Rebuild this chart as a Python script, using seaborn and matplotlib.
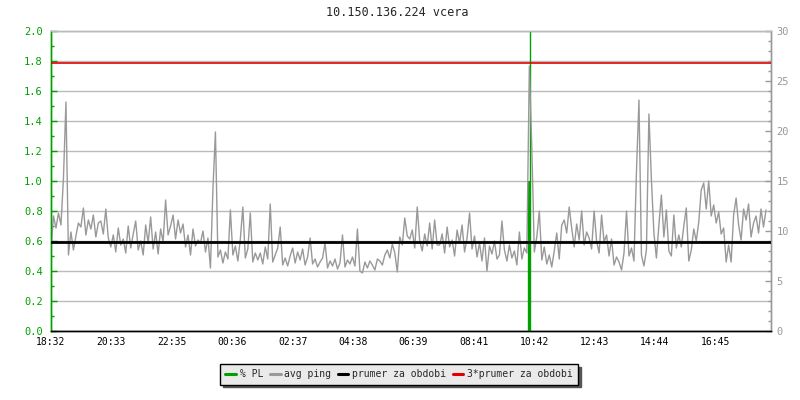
import pandas as pd
import seaborn as sns
import matplotlib.pyplot as plt
from matplotlib.lines import Line2D
from matplotlib.ticker import MultipleLocator

title = "10.150.136.224 vcera"
time_labels = ["18:32", "20:33", "22:35", "00:36", "02:37", "04:38",
               "06:39", "08:41", "10:42", "12:43", "14:44", "16:45"]
legend_labels = ["% PL", "avg ping", "prumer za obdobi", "3*prumer za obdobi"]

sample_step = 5  # minutes between ping samples
# avg ping [ms], one row per hour from 18:32
avg_ping_ms = [
    8.2, 11.5, 10.3, 11.8, 10.6, 15.3, 22.9, 7.6, 9.9, 8.1, 9.5, 10.8,
    10.4, 12.3, 9.6, 11.1, 10.2, 11.6, 9.4, 10.8, 11.0, 9.7, 12.2, 9.3,
    8.4, 9.6, 7.9, 10.3, 8.6, 9.2, 7.8, 10.5, 8.3, 9.7, 11.0, 8.1,
    9.0, 7.6, 10.6, 8.8, 11.4, 8.2, 9.9, 7.7, 10.2, 8.9, 13.1, 9.6,
    10.5, 11.6, 9.2, 11.1, 9.8, 10.7, 8.4, 9.6, 7.6, 10.2, 8.5, 9.1,
    8.8, 10.0, 7.9, 9.3, 6.3, 14.2, 19.9, 7.4, 8.1, 6.8, 7.9, 7.2,
    12.1, 7.6, 8.5, 7.0, 9.2, 12.4, 7.3, 8.2, 11.8, 6.9, 7.8, 7.1,
    7.8, 6.7, 8.4, 7.2, 12.7, 6.9, 7.6, 8.3, 10.4, 6.6, 7.3, 6.5,
    7.5, 8.3, 6.8, 7.9, 7.1, 8.2, 6.6, 7.4, 9.3, 6.7, 7.2, 6.4,
    6.9, 7.3, 8.8, 6.3, 7.0, 6.5, 7.2, 6.2, 6.8, 9.6, 6.4, 7.1,
    6.7, 7.4, 6.5, 10.2, 6.0, 5.8, 6.9, 6.3, 7.0, 6.6, 6.1, 7.2,
    7.0, 6.6, 7.6, 8.1, 7.3, 8.7, 7.8, 5.9, 9.4, 8.6, 11.3, 9.5,
    9.2, 10.1, 8.3, 12.4, 9.0, 8.0, 9.7, 8.5, 10.8, 8.2, 11.1, 8.6,
    8.6, 9.7, 7.8, 10.4, 8.4, 9.1, 7.5, 10.1, 8.8, 10.6, 7.9, 9.3,
    11.8, 8.2, 9.5, 7.4, 8.8, 7.0, 9.3, 6.0, 8.5, 7.7, 9.0, 7.2,
    7.6, 11.0, 8.1, 7.0, 8.6, 7.3, 8.0, 6.6, 9.9, 7.2, 8.3, 7.8,
    26.5, 18.3, 7.9, 9.4, 12.0, 7.1, 8.4, 6.7, 7.6, 6.4, 8.0, 9.8,
    7.2, 10.6, 11.1, 9.8, 12.4, 10.3, 8.4, 10.7, 9.1, 12.0, 8.6, 9.9,
    9.3, 8.2, 12.0, 9.0, 7.8, 11.6, 8.9, 9.6, 7.5, 9.2, 6.6, 7.4,
    6.9, 6.1, 7.8, 12.0, 7.5, 8.3, 7.0, 16.0, 23.1, 7.6, 6.5, 8.1,
    21.7, 15.1, 9.8, 7.3, 10.6, 13.6, 9.4, 12.1, 8.0, 7.5, 11.6, 8.3,
    9.6, 8.4, 10.5, 12.3, 7.0, 8.1, 10.2, 9.0, 10.9, 14.1, 14.8, 12.2,
    15.0, 11.5, 12.6, 10.8, 11.9, 9.7, 10.3, 6.9, 8.6, 6.9, 11.6, 13.3,
    10.6, 9.1, 12.2, 11.1, 12.7, 9.4, 10.8, 11.5, 9.8, 12.2, 10.4, 12.1,
]
period_mean_ms = 8.93

# packet loss events [minutes after 18:32, %]
pl_minutes = [959, 961]
pl_percent = [1.0, 2.6]

GREEN = "#00a000"
GRAY = "#999999"
GRID = "#bbbbbb"


def minutes_since_start(label, start):
    h, m = map(int, label.split(":"))
    h0, m0 = map(int, start.split(":"))
    return ((h * 60 + m) - (h0 * 60 + m0)) % 1440


sns.set_theme(style="white")
plt.rcParams["font.family"] = ["DejaVu Sans Mono", "DejaVu Sans"]

df = pd.DataFrame({"minute": [i * sample_step for i in range(len(avg_ping_ms))],
                   "ping": avg_ping_ms})

fig = plt.figure(figsize=(8, 4), dpi=100)
ax = fig.add_axes([51 / 800, 69 / 400, 720 / 800, 300 / 400])
ax2 = ax.twinx()

# left axis: % PL
ax.set_xlim(0, 1445)
ax.set_ylim(0, 2.0)
ax.yaxis.set_major_locator(MultipleLocator(0.2))
ax.yaxis.set_minor_locator(MultipleLocator(0.1))
ax.yaxis.grid(True, color=GRID, lw=1)
ax.set_axisbelow(True)
ax.vlines(pl_minutes, 0, pl_percent, colors=GREEN, linewidths=[1.7, 1.0], zorder=3)

# right axis: ping in ms
sns.lineplot(data=df, x="minute", y="ping", ax=ax2, color=GRAY, linewidth=1,
             estimator=None, zorder=2)
ax2.axhline(period_mean_ms, color="black", lw=2, zorder=3)
ax2.axhline(3 * period_mean_ms, color="#e00000", lw=1.2, zorder=3)
ax2.set_ylim(0, 30)
ax2.yaxis.set_major_locator(MultipleLocator(5))
ax2.yaxis.set_minor_locator(MultipleLocator(1))
ax2.set_xlabel("")
ax2.set_ylabel("")

ticks = [minutes_since_start(t, time_labels[0]) for t in time_labels]
ax.set_xticks(ticks)
ax.set_xticklabels(time_labels)
ax.set_yticklabels([f"{v:.1f}" for v in ax.get_yticks()])

ax.tick_params(axis="x", direction="in", length=3, width=1, color="black",
               labelsize=7, pad=4, labelcolor="black")
ax.tick_params(axis="y", which="major", direction="in", length=4, width=1,
               color=GREEN, labelcolor=GREEN, labelsize=7.5, pad=6)
ax.tick_params(axis="y", which="minor", direction="in", length=2.2, width=1, color=GREEN)
ax2.tick_params(axis="y", which="major", direction="in", length=4, width=1,
                color=GRAY, labelcolor=GRAY, labelsize=7.5, pad=4)
ax2.tick_params(axis="y", which="minor", direction="in", length=2.2, width=1, color=GRAY)

for a in (ax, ax2):
    a.spines["left"].set_color(GREEN)
    a.spines["right"].set_color(GRAY)
    a.spines["bottom"].set_color("black")
    a.spines["top"].set_color(GRID)
    for s in a.spines.values():
        s.set_linewidth(1)

fig.text(0.497, 1 - 13 / 400, title, ha="center", va="center", fontsize=8.5)

handles = [Line2D([], [], color=c, lw=2.2) for c in (GREEN, GRAY, "black", "#e00000")]
leg = fig.legend(handles, legend_labels, loc="upper center", bbox_to_anchor=(0.4987, 1 - 359 / 400),
                 ncol=4, fontsize=7, frameon=True, fancybox=False,
                 shadow={"color": "#555555", "alpha": 1},
                 handlelength=1.1, handletextpad=0.35, columnspacing=0.7,
                 borderpad=0.55, facecolor="#eaeaea", edgecolor="black", framealpha=1)
leg.get_frame().set_linewidth(1)

fig.savefig("out.png", dpi=100)
plt.close(fig)
